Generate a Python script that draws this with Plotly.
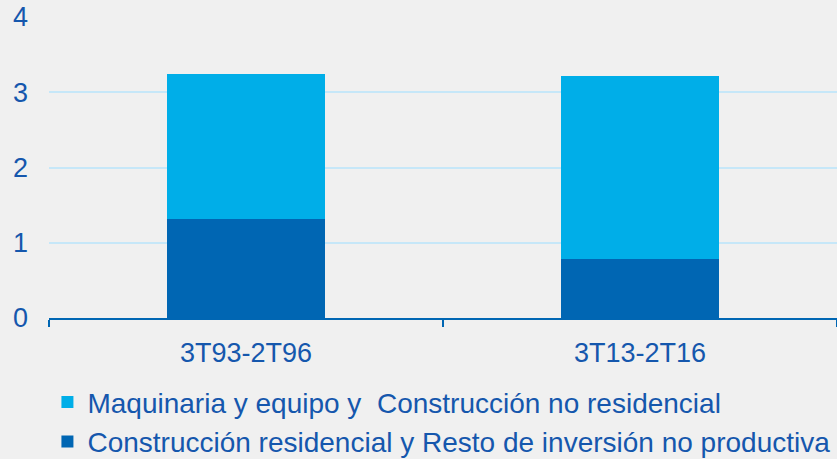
import plotly.graph_objects as go

categories = ["3T93-2T96", "3T13-2T16"]
residencial = [1.32, 0.79]
maquinaria = [1.92, 2.43]
y_ticks = [0, 1, 2, 3, 4]

name_light = "Maquinaria y equipo y  Construcción no residencial"
name_dark = "Construcción residencial y Resto de inversión no productiva"

text_color = "#1557ad"
font_family = "Liberation Sans, Arial, sans-serif"

fig = go.Figure()
fig.add_trace(go.Bar(x=categories, y=residencial, name=name_dark,
                     marker=dict(color="#0066b3", line=dict(width=0))))
fig.add_trace(go.Bar(x=categories, y=maquinaria, name=name_light,
                     marker=dict(color="#00aee8", line=dict(width=0))))

fig.update_layout(
    width=837, height=459,
    barmode="stack", bargap=0.6,
    paper_bgcolor="#f0f0f0", plot_bgcolor="#f0f0f0",
    margin=dict(l=49, r=0, t=17, b=141, autoexpand=False),
    font=dict(family=font_family, size=27, color=text_color),
    showlegend=True,
    legend=dict(traceorder="reversed", orientation="v",
                x=-0.002, xanchor="left", y=-0.197, yanchor="top",
                font=dict(size=28, color=text_color),
                bgcolor="rgba(0,0,0,0)", itemclick=False,
                tracegroupgap=0),
    xaxis=dict(showline=True, linecolor="#0066b3", linewidth=2,
               ticks="outside", tickson="boundaries", ticklen=7,
               tickwidth=2, tickcolor="#0066b3", showgrid=False,
               ticklabelstandoff=10,
               tickfont=dict(size=27, color=text_color)),
    yaxis=dict(range=[0, 4], tickvals=y_ticks, showgrid=True,
               gridcolor="#c6e7f8", gridwidth=2, zeroline=False,
               showline=False, ticks="", ticklabelstandoff=20,
               tickfont=dict(size=27, color=text_color)),
)

fig.write_html(
    "out.html",
    config={"displayModeBar": False},
    post_script="document.body.style.margin='0';document.body.style.overflow='hidden';",
)
